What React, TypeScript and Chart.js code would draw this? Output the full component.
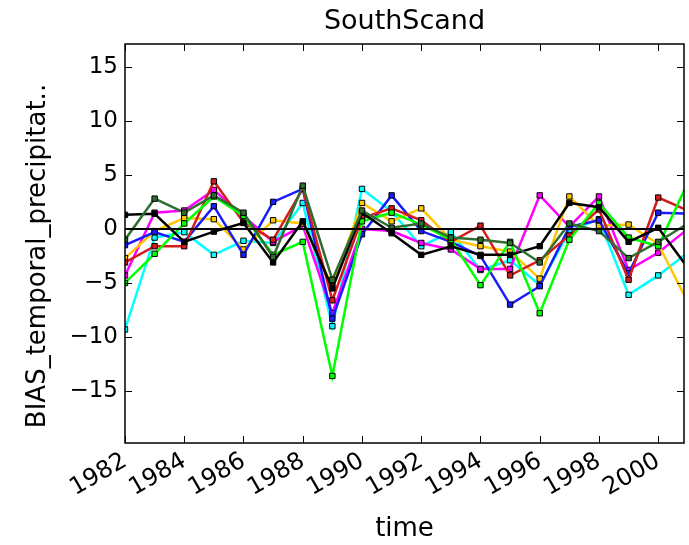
import React, { useEffect, useRef } from "react";
import { Chart, registerables } from "chart.js";

Chart.register(...registerables);

const years = [1982, 1983, 1984, 1985, 1986, 1987, 1988, 1989, 1990, 1991, 1992, 1993, 1994, 1995, 1996, 1997, 1998, 1999, 2000, 2001];
const xTickValues = [1982, 1984, 1986, 1988, 1990, 1992, 1994, 1996, 1998, 2000];
const yTickValues = [-15, -10, -5, 0, 5, 10, 15];

const blueSeries = [-1.5, -0.3, -1.2, 2.1, -2.4, 2.5, 3.7, -8.3, -0.5, 3.1, -0.2, -1.2, -2.5, -7.0, -5.3, 0.2, 0.8, -4.1, 1.5, 1.4];
const redSeries = [-3.1, -1.6, -1.6, 4.4, 0.6, -1.0, 3.7, -6.6, 1.0, 1.9, 0.8, -1.2, 0.3, -4.3, -2.9, -0.6, 1.8, -4.7, 2.9, 1.7];
const magentaSeries = [-4.3, 1.5, 1.7, 3.6, 1.2, -1.2, 0.3, -7.8, 0.0, -0.2, -1.3, -1.9, -3.7, -3.7, 3.1, 0.2, 3.0, -3.8, -2.2, 0.0];
const limeSeries = [-5.0, -2.3, 0.5, 3.0, 1.2, -2.4, -1.2, -13.6, 0.7, 1.5, 0.4, -1.0, -5.2, -1.2, -7.8, -1.0, 2.4, -0.8, -1.6, 4.3];
const darkGreenSeries = [-1.0, 2.8, 1.5, 3.1, 1.5, -2.6, 4.0, -4.7, 1.7, 0.1, 0.5, -0.8, -1.0, -1.3, -3.1, 0.5, -0.2, -2.7, -1.2, 0.5];
const cyanSeries = [-9.3, -0.8, -0.3, -2.4, -1.1, -1.3, 2.4, -9.0, 3.7, 1.6, -1.6, -0.3, -3.8, -2.9, -5.2, -0.2, 0.9, -6.1, -4.3, -2.2];
const yellowSeries = [-2.7, -0.2, 1.0, 0.9, -1.9, 0.8, 0.5, -5.3, 2.4, 0.7, 1.9, -1.0, -1.6, -2.1, -4.6, 3.0, 0.3, 0.4, -1.4, -6.8];
const blackSeries = [1.3, 1.4, -1.2, -0.25, 0.55, -3.1, 0.7, -5.5, 1.5, -0.4, -2.4, -1.6, -2.4, -2.4, -1.6, 2.4, 2.0, -1.2, 0.1, -3.6];
const zeroLine = [0, 0];
const zeroLineYears = [1982, 2001];

const TITLE = "SouthScand";
const X_LABEL = "time";
const Y_LABEL = "BIAS_temporal_precipitat..";

const FONT = "'DejaVu Sans', sans-serif";

function pts(xs: number[], ys: number[]) {
  return xs.map((x, i) => ({ x, y: ys[i] }));
}

function series(label: string, color: string, values: number[]) {
  return {
    label,
    data: pts(years, values),
    borderColor: color,
    backgroundColor: color,
    borderWidth: 2.5,
    pointStyle: "rect" as const,
    pointRadius: 3.8,
    pointBorderWidth: 1,
    pointBorderColor: "#000",
    pointBackgroundColor: color,
    tension: 0,
  };
}

const framePlugin = {
  id: "frame",
  afterDatasetsDraw(chart: any) {
    const { ctx, chartArea, scales } = chart;
    const { left, right, top, bottom } = chartArea;
    ctx.save();
    ctx.strokeStyle = "#000";
    ctx.lineWidth = 1.5;
    ctx.strokeRect(left, top, right - left, bottom - top);
    ctx.lineWidth = 1;
    ctx.beginPath();
    for (const v of xTickValues) {
      const px = Math.round(scales.x.getPixelForValue(v)) + 0.5;
      ctx.moveTo(px, bottom);
      ctx.lineTo(px, bottom - 7);
      ctx.moveTo(px, top);
      ctx.lineTo(px, top + 7);
    }
    for (const v of yTickValues) {
      const py = Math.round(scales.y.getPixelForValue(v)) + 0.5;
      ctx.moveTo(left, py);
      ctx.lineTo(left + 7, py);
      ctx.moveTo(right, py);
      ctx.lineTo(right - 7, py);
    }
    ctx.stroke();
    // y axis label
    ctx.fillStyle = "#000";
    ctx.font = "26px " + FONT;
    ctx.textAlign = "center";
    ctx.textBaseline = "middle";
    ctx.translate(38, 256);
    ctx.rotate(-Math.PI / 2);
    ctx.fillText(Y_LABEL, 0, 0);
    ctx.restore();
  },
};

export default function App() {
  const ref = useRef<HTMLCanvasElement | null>(null);
  useEffect(() => {
    document.body.style.margin = "0";
    const canvas = ref.current;
    if (!canvas) return;
    const chart = new Chart(canvas, {
      type: "line",
      data: {
        datasets: [
          {
            label: "zero",
            data: pts(zeroLineYears, zeroLine),
            borderColor: "#000",
            borderWidth: 2,
            pointRadius: 0,
          },
          series("darkgreen", "#2f6e2f", darkGreenSeries),
          series("black", "#000000", blackSeries),
          series("lime", "#00ff00", limeSeries),
          series("red", "#d41c1c", redSeries),
          series("blue", "#1a1aff", blueSeries),
          series("yellow", "#ffc800", yellowSeries),
          series("magenta", "#ff00ff", magentaSeries),
          series("cyan", "#00ffff", cyanSeries),
        ],
      },
      options: {
        animation: false,
        responsive: false,
        layout: { padding: { left: 0, right: 0, top: 0, bottom: 0 } },
        plugins: {
          legend: { display: false },
          tooltip: { enabled: false },
          title: { display: false },
        },
        scales: {
          x: {
            type: "linear",
            min: 1982,
            max: 2000.87,
            grid: { display: false, drawTicks: false },
            border: { display: false },
            afterBuildTicks: (scale: any) => {
              scale.ticks = xTickValues.map((v) => ({ value: v }));
            },
            afterFit: (scale: any) => {
              scale.height = 102;
              scale.paddingLeft = 0;
              scale.paddingRight = 0;
            },
            ticks: {
              autoSkip: false,
              minRotation: 30,
              maxRotation: 30,
              padding: 4,
              color: "#000",
              font: { family: FONT, size: 24 },
              callback: (v: any) => String(v),
            },
            title: {
              display: true,
              text: X_LABEL,
              color: "#000",
              font: { family: FONT, size: 26 },
              padding: { top: 0, bottom: 0 },
            },
          },
          x2: {
            type: "linear",
            position: "top",
            min: 1982,
            max: 2000.87,
            grid: { display: false, drawTicks: false },
            border: { display: false },
            ticks: { display: false },
            afterFit: (scale: any) => {
              scale.height = 44;
              scale.paddingLeft = 0;
              scale.paddingRight = 0;
            },
            title: {
              display: true,
              text: TITLE,
              color: "#000",
              font: { family: FONT, size: 27 },
              padding: { top: 6, bottom: 0 },
            },
          },
          y: {
            type: "linear",
            min: -19.8,
            max: 17.1,
            grid: { display: false, drawTicks: false },
            border: { display: false },
            afterBuildTicks: (scale: any) => {
              scale.ticks = yTickValues.map((v) => ({ value: v }));
            },
            afterFit: (scale: any) => {
              scale.width = 125;
              scale.paddingTop = 0;
              scale.paddingBottom = 0;
            },
            ticks: {
              padding: 7,
              color: "#000",
              font: { family: FONT, size: 23 },
              callback: (v: any) => (v < 0 ? "\u2212" + String(-v) : String(v)),
            },
          },
        },
      },
      plugins: [framePlugin],
    });
    return () => chart.destroy();
  }, []);
  return (
    <div style={{ width: 689, height: 545, overflow: "hidden" }}>
      <canvas ref={ref} width={689} height={545} style={{ display: "block" }} />
    </div>
  );
}
